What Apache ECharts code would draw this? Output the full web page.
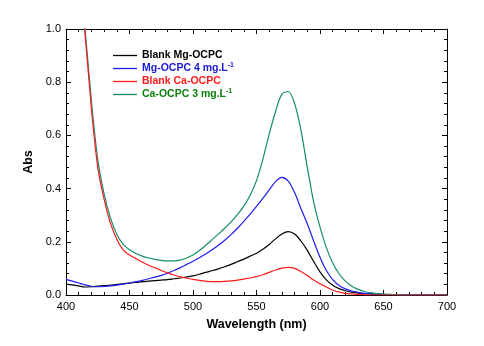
<!DOCTYPE html>
<html><head><meta charset="utf-8">
<script src="https://cdn.jsdelivr.net/npm/echarts@6/dist/echarts.min.js"></script>
<style>html,body{margin:0;padding:0;background:#fff}#c{width:484px;height:346px}</style>
</head><body><div id="c"></div>
<script>
const wavelength = [400,405,410,415,420,425,430,435,440,445,450,455,460,465,470,475,480,485,490,495,500,505,510,515,520,525,530,535,540,545,550,555,560,565,570,575,580,585,590,595,600,605,610,615,620,625,630,635,640,645,650,655,660,665,670,675,680,685,690,695,700];
const blankMg = [0.041,0.038,0.034,0.030,0.031,0.033,0.035,0.037,0.040,0.042,0.045,0.047,0.050,0.052,0.054,0.056,0.058,0.061,0.064,0.068,0.072,0.078,0.085,0.091,0.098,0.106,0.115,0.125,0.135,0.146,0.157,0.172,0.190,0.211,0.229,0.238,0.229,0.203,0.168,0.126,0.087,0.057,0.037,0.024,0.016,0.011,0.008,0.005,0.004,0.003,0.002,0.001,0.001,0,0,0,0,0,0,0,0];
const mg4 = [0.059,0.052,0.045,0.038,0.033,0.031,0.032,0.034,0.037,0.041,0.045,0.050,0.055,0.061,0.067,0.074,0.082,0.092,0.103,0.115,0.127,0.140,0.154,0.170,0.187,0.206,0.227,0.251,0.277,0.304,0.333,0.363,0.395,0.426,0.442,0.428,0.385,0.325,0.268,0.203,0.142,0.092,0.058,0.036,0.023,0.015,0.010,0.006,0.004,0.003,0.002,0.001,0.001,0,0,0,0,0,0,0,0];
const blankCa = [1.75,1.45,1.2,0.98,0.70,0.48,0.36,0.27,0.21,0.17,0.150,0.137,0.124,0.112,0.102,0.092,0.083,0.075,0.068,0.063,0.059,0.055,0.052,0.050,0.050,0.051,0.053,0.056,0.060,0.064,0.069,0.076,0.085,0.094,0.101,0.104,0.100,0.088,0.073,0.056,0.042,0.030,0.018,0.011,0.006,0.004,0.002,0.001,0,0,0,0,0,0,0,0,0,0,0,0,0];
const ca3 = [1.8,1.5,1.24,1.0,0.73,0.51,0.38,0.29,0.228,0.19,0.170,0.156,0.146,0.139,0.134,0.130,0.128,0.128,0.131,0.139,0.150,0.167,0.187,0.208,0.229,0.251,0.275,0.302,0.334,0.375,0.43,0.51,0.605,0.69,0.755,0.765,0.72,0.62,0.48,0.35,0.255,0.178,0.12,0.08,0.052,0.033,0.021,0.013,0.008,0.005,0.003,0.002,0.001,0,0,0,0,0,0,0,0];
const seriesNames = ['Blank Mg-OCPC', 'Mg-OCPC 4 mg.L', 'Blank Ca-OCPC', 'Ca-OCPC 3 mg.L'];
const superscripts = ['', '-1', '', '-1'];
const xTicks = [400, 450, 500, 550, 600, 650, 700];
const yTicks = [0.0, 0.2, 0.4, 0.6, 0.8, 1.0];

const lineColors = ['#000000', '#1c1cf0', '#ff1a1a', '#148c6c'];
const textColors = ['#000000', '#1a1ad8', '#ff1a1a', '#0d820d'];
const values = [blankMg, mg4, blankCa, ca3];
const FONT = 'Liberation Sans';

function pairs(arr){ return wavelength.map((w,i)=>[w, arr[i]]); }

const legendTops = [49, 62, 75, 88];
const legends = seriesNames.map((n,i)=>({
  data:[{name:n}], left:113, top:legendTops[i], padding:0,
  itemWidth:24, itemHeight:1.3, icon:'rect', selectedMode:false,
  formatter: function(name){ return '{t|' + name + '}' + (superscripts[i] ? '{s|' + superscripts[i] + '}' : ''); },
  textStyle:{ fontFamily:FONT, fontWeight:'bold', fontSize:10.5, color:textColors[i], lineHeight:13,
    rich:{ t:{fontFamily:FONT, fontWeight:'bold', fontSize:10.5, color:textColors[i], lineHeight:13},
           s:{fontFamily:FONT, fontWeight:'bold', fontSize:7, color:textColors[i], lineHeight:13, verticalAlign:'top', padding:[0,0,6,0]} } }
}));

const axisCommonX = {
  type:'value', min:400, max:700, interval:50,
  axisLine:{show:true, onZero:false, lineStyle:{color:'#000', width:1}},
  axisTick:{show:true, inside:true, length:5, lineStyle:{color:'#000', width:1}},
  minorTick:{show:true, splitNumber:5, length:3, lineStyle:{color:'#000', width:1}},
  splitLine:{show:false}, minorSplitLine:{show:false}
};
const axisCommonY = {
  type:'value', min:0, max:1, interval:0.2,
  axisLine:{show:true, onZero:false, lineStyle:{color:'#000', width:1}},
  axisTick:{show:true, inside:true, length:5, lineStyle:{color:'#000', width:1}},
  minorTick:{show:true, splitNumber:5, length:3, lineStyle:{color:'#000', width:1}},
  splitLine:{show:false}, minorSplitLine:{show:false}
};

const order = [0,1,3,2];
const option = {
  animation:false,
  backgroundColor:'#fff',
  grid:{left:66, right:37, top:29, bottom:51, containLabel:false},
  legend: legends,
  xAxis:[
    Object.assign({}, axisCommonX, {position:'bottom', name:'Wavelength (nm)', nameLocation:'middle', nameGap:23,
      nameTextStyle:{fontFamily:FONT, fontWeight:'bold', fontSize:12.5, color:'#000'},
      axisLabel:{show:true, margin:6, fontFamily:FONT, fontSize:11, color:'#000',
        formatter: v => xTicks.includes(v) ? String(v) : ''}}),
    Object.assign({}, axisCommonX, {position:'top', axisLabel:{show:false}})
  ],
  yAxis:[
    Object.assign({}, axisCommonY, {position:'left', name:'Abs', nameLocation:'middle', nameGap:26,
      nameTextStyle:{fontFamily:FONT, fontWeight:'bold', fontSize:12.5, color:'#000'},
      axisLabel:{show:true, margin:5, fontFamily:FONT, fontSize:11, color:'#000',
        formatter: v => { const t = yTicks.find(y => Math.abs(y - v) < 1e-6); return t === undefined ? '' : t.toFixed(1); }}}),
    Object.assign({}, axisCommonY, {position:'right', axisLabel:{show:false}})
  ],
  series: order.map(i => ({
    name: seriesNames[i], type:'line', data: pairs(values[i]),
    xAxisIndex:0, yAxisIndex:0, showSymbol:false, symbol:'none', smooth:0.3, clip:true,
    color: lineColors[i],
    lineStyle:{color:lineColors[i], width:1.2},
    itemStyle:{color:lineColors[i]}
  }))
};
const chart = echarts.init(document.getElementById('c'), null, {renderer:'canvas'});
chart.setOption(option);
</script>
</body></html>
